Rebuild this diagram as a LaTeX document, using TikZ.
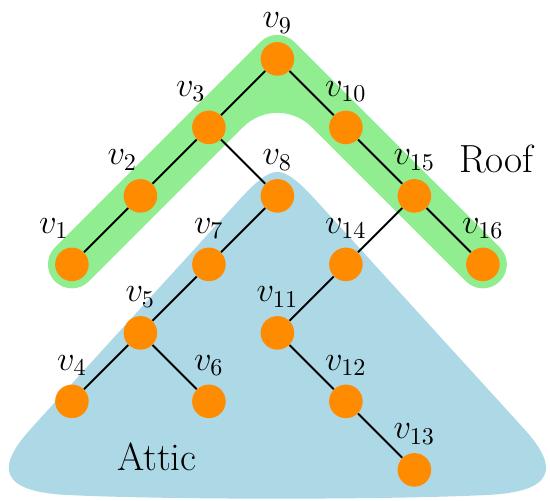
\documentclass[tikz,border=0pt]{standalone}
\usepackage{amsmath,amssymb}
\usepackage{tikz}
\definecolor{roofgreen}{RGB}{144,238,144}
\definecolor{atticblue}{RGB}{173,216,230}
\definecolor{vorange}{RGB}{255,140,0}

\begin{document}
\begin{tikzpicture}[
  vertex/.style={circle, fill=vorange, inner sep=0pt, minimum size=0.49cm},
  edge/.style={thick},
  every label/.style={font=\Large},
  region/.style={font=\fontsize{16.3}{19}\selectfont}
]
\useasboundingbox (-1.05,-0.44) rectangle (6.98,6.86);

% attic
\fill[atticblue] (3,4.35) .. controls (2.8,4.35) and (2.55,4.06) .. (2.3,3.785)
  -- (-0.6,0.6) .. controls (-1.1,0.05) and (-1.1,-0.33) .. (0,-0.37)
  .. controls (1.5,-0.437) and (4.5,-0.437) .. (6,-0.37)
  .. controls (7.1,-0.33) and (7.1,0.05) .. (6.6,0.6)
  -- (3.7,3.785) .. controls (3.45,4.06) and (3.2,4.35) .. (3,4.35) -- cycle;

% roof
\fill[roofgreen] (-0.2475,3.2475) -- (2.7525,6.2475)
  arc[start angle=135, end angle=45, radius=0.35] -- (6.2475,3.2475)
  arc[start angle=45, end angle=-135, radius=0.35] -- (3.5,5.005)
  arc[start angle=45, end angle=135, radius=0.7071] -- (0.2475,2.7525)
  arc[start angle=-45, end angle=-225, radius=0.35] -- cycle;

% vertices
\node[vertex, label={[xshift=-7.5pt]above:$v_1$}] (v1) at (0,3) {};
\node[vertex, label={[xshift=-7.5pt]above:$v_2$}] (v2) at (1,4) {};
\node[vertex, label={[xshift=-7.5pt]above:$v_3$}] (v3) at (2,5) {};
\node[vertex, label=above:$v_4$] (v4) at (0,1) {};
\node[vertex, label=above:$v_5$] (v5) at (1,2) {};
\node[vertex, label=above:$v_6$] (v6) at (2,1) {};
\node[vertex, label=above:$v_7$] (v7) at (2,3) {};
\node[vertex, label=above:$v_8$] (v8) at (3,4) {};
\node[vertex, label=above:$v_9$] (v9) at (3,6) {};
\node[vertex, label=above:$v_{10}$] (v10) at (4,5) {};
\node[vertex, label=above:$v_{11}$] (v11) at (3,2) {};
\node[vertex, label=above:$v_{12}$] (v12) at (4,1) {};
\node[vertex, label=above:$v_{13}$] (v13) at (5,0) {};
\node[vertex, label=above:$v_{14}$] (v14) at (4,3) {};
\node[vertex, label=above:$v_{15}$] (v15) at (5,4) {};
\node[vertex, label=above:$v_{16}$] (v16) at (6,3) {};

% edges
\draw[edge] (v9) -- (v3) -- (v2) -- (v1);
\draw[edge] (v3) -- (v8) -- (v7) -- (v5) -- (v4);
\draw[edge] (v5) -- (v6);
\draw[edge] (v9) -- (v10) -- (v15) -- (v16);
\draw[edge] (v15) -- (v14) -- (v11) -- (v12) -- (v13);

\node[region] (roof) at (6.2,4.54) {Roof};
\node[region] (attic) at (1.24,0.19) {Attic};
\end{tikzpicture}
\end{document}
